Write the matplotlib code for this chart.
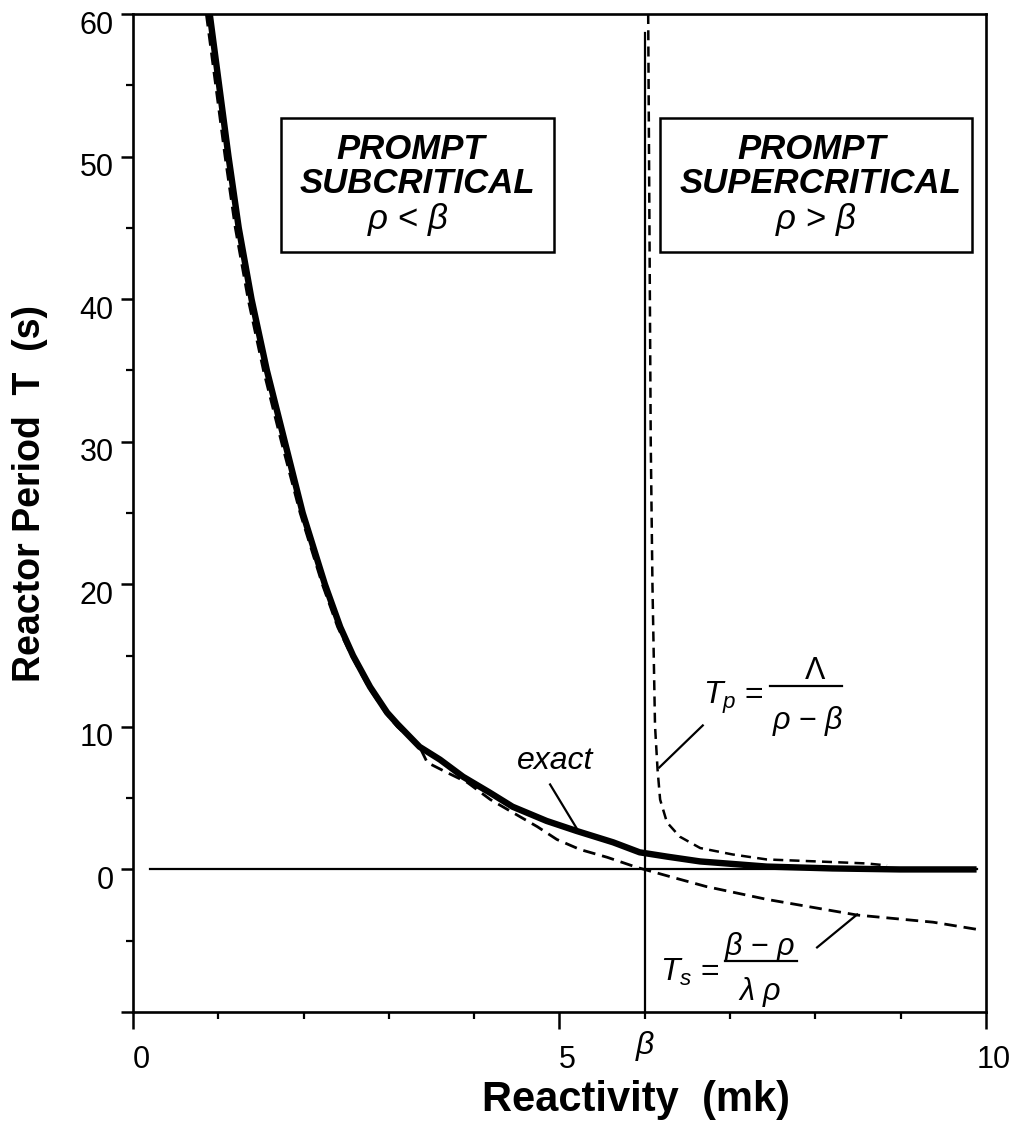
import matplotlib
matplotlib.use("Agg")
import matplotlib.pyplot as plt
from matplotlib.patches import Rectangle
from matplotlib.transforms import ScaledTranslation

plt.rcParams['font.family'] = ['Liberation Sans', 'DejaVu Sans']
plt.rcParams['mathtext.fontset'] = 'custom'
plt.rcParams['mathtext.rm'] = 'Liberation Sans'
plt.rcParams['mathtext.it'] = 'Liberation Sans:italic'
plt.rcParams['mathtext.bf'] = 'Liberation Sans:bold'

BETA = 6.0  # delayed neutron fraction, mk

# exact solution of the inhour equation (thick line)
exact_rho = [0.90, 1.01, 1.12, 1.24, 1.39, 1.57, 1.78, 1.99, 2.25, 2.43,
             2.58, 2.78, 2.98, 3.10, 3.36, 3.60, 3.87, 4.18, 4.45, 4.85,
             5.20, 5.63, 5.94, 6.26, 6.65, 7.43, 8.20, 8.99, 9.89]
exact_T = [60, 55, 50, 45, 40, 35, 30, 25, 20, 17,
           15, 12.8, 11.0, 10.2, 8.6, 7.7, 6.5, 5.4, 4.4, 3.4,
           2.7, 1.9, 1.2, 0.9, 0.56, 0.2, 0.07, 0.0, 0.0]

# stable period approximation Ts = (beta - rho) / (lambda rho)
ts_rho = [0.86, 0.97, 1.08, 1.20, 1.35, 1.53, 1.74, 1.96, 2.22, 2.40,
          2.56, 2.76, 2.96, 3.10, 3.36, 3.45, 3.68, 3.92, 4.19, 4.45,
          4.74, 4.97, 5.24, 5.56, 5.91, 6.33, 6.72, 7.43, 8.49, 9.38, 9.89]
ts_T = [60, 55, 50, 45, 40, 35, 30, 25, 20, 17,
        15, 12.8, 11.0, 10.0, 8.6, 7.5, 6.8, 6.1, 4.9, 4.0,
        3.0, 2.1, 1.4, 0.85, 0.14, -0.56, -1.2, -2.1, -3.2, -3.7, -4.2]

# prompt period approximation Tp = Lambda / (rho - beta)
tp_rho = [6.04, 6.05, 6.06, 6.07, 6.09, 6.12, 6.15, 6.18, 6.26, 6.41, 6.65,
          7.03, 7.43, 8.02, 8.60, 8.84]
tp_T = [60, 50, 40, 30, 20, 10.1, 7.0, 4.9, 3.3, 2.3, 1.5,
        1.05, 0.7, 0.56, 0.42, 0.28]

zero_line_rho = [0.2, 9.9]
beta_line_T = [-10, 58.7]

y_ticks = [-10, 0, 10, 20, 30, 40, 50, 60]
y_tick_labels = ['', '0', '10', '20', '30', '40', '50', '60']
x_ticks = [0, 5, 10]
x_tick_labels = ['0', '5', '10']

fig = plt.figure(figsize=(10.15, 11.39), dpi=100)
ax = fig.add_axes([0.131, 0.1115, 0.8404, 0.8762])

ax.plot(zero_line_rho, [0, 0], color='black', lw=1.6)
ax.plot([BETA, BETA], beta_line_T, color='black', lw=1.6)

ax.plot(ts_rho, ts_T, color='black', lw=2.0, dashes=(4.5, 2.5))
ax.plot(tp_rho, tp_T, color='black', lw=1.8, dashes=(4, 2.5))
ax.plot(exact_rho, exact_T, color='black', lw=4.6, solid_capstyle='butt')

ax.set_xlim(0, 10)
ax.set_ylim(-10, 60)
for s in ax.spines.values():
    s.set_linewidth(1.9)

ax.set_yticks(y_ticks)
ax.set_yticklabels(y_tick_labels)
ax.set_yticks(range(-5, 60, 10), minor=True)
ax.set_xticks(x_ticks)
ax.set_xticklabels(x_tick_labels)
ax.set_xticks(range(1, 10), minor=True)
ax.tick_params(axis='y', which='major', length=9, width=1.8, labelsize=22, pad=5)
ax.tick_params(axis='y', which='minor', length=5, width=1.6)
ax.tick_params(axis='x', which='major', length=12, width=1.8, labelsize=22, pad=12)
ax.tick_params(axis='x', which='minor', length=5, width=1.6)

for lab in ax.get_yticklabels():
    lab.set_transform(lab.get_transform() + ScaledTranslation(0, -0.08, fig.dpi_scale_trans))
for lab in ax.get_xticklabels():
    lab.set_transform(lab.get_transform() + ScaledTranslation(0.08, 0, fig.dpi_scale_trans))

# beta marked on the reactivity axis, level with the tick labels
ax.text(BETA, -0.034, r'$\beta$', transform=ax.get_xaxis_transform(),
        ha='center', va='center', fontsize=23)

fig.text(0.627, 0.034, 'Reactivity  (mk)', ha='center', va='center',
         fontsize=30, fontweight='bold')
fig.text(0.030, 0.567, 'Reactor Period  T  (s)', ha='center', va='center',
         rotation=90, fontsize=27, fontweight='bold')

# region boxes
ax.add_patch(Rectangle((1.73, 43.3), 3.21, 9.4, fill=False, ec='black', lw=1.8))
ax.add_patch(Rectangle((6.18, 43.3), 3.66, 9.4, fill=False, ec='black', lw=1.8))

box_font = dict(fontsize=25, fontweight='bold', style='italic', ha='center', va='center')
ax.text(3.26, 50.5, 'PROMPT', **box_font)
ax.text(3.33, 48.1, 'SUBCRITICAL', **box_font)
ax.text(3.22, 45.6, r'$\rho$ < $\beta$', fontsize=25, ha='center', va='center')
ax.text(7.96, 50.5, 'PROMPT', **box_font)
ax.text(8.06, 48.1, 'SUPERCRITICAL', **box_font)
ax.text(8.00, 45.6, r'$\rho$ > $\beta$', fontsize=25, ha='center', va='center')

# curve labels with leader lines
ax.text(4.95, 7.6, 'exact', fontsize=23, style='italic', ha='center', va='center')
ax.plot([4.89, 5.21], [5.96, 2.8], color='black', lw=1.6)

ax.text(6.68, 12.0, r'$T_p$ =', fontsize=23, ha='left', va='center')
ax.plot([7.47, 8.31], [12.9, 12.9], color='black', lw=1.6)
ax.text(8.0, 12.9, r'$\Lambda$', fontsize=22, ha='center', va='bottom')
ax.text(7.91, 10.4, r'$\rho$ $-$ $\beta$', fontsize=22, ha='center', va='center')
ax.plot([6.68, 6.17], [10.1, 7.15], color='black', lw=1.6)

ax.text(6.18, -7.2, r'$T_s$ =', fontsize=23, ha='left', va='center')
ax.plot([6.94, 7.78], [-6.45, -6.45], color='black', lw=1.6)
ax.text(7.35, -6.6, r'$\beta$ $-$ $\rho$', fontsize=22, ha='center', va='bottom')
ax.text(7.35, -8.6, r'$\lambda$ $\rho$', fontsize=22, ha='center', va='center')
ax.plot([8.02, 8.49], [-5.47, -3.16], color='black', lw=1.6)

fig.savefig('out.png', dpi=100)
